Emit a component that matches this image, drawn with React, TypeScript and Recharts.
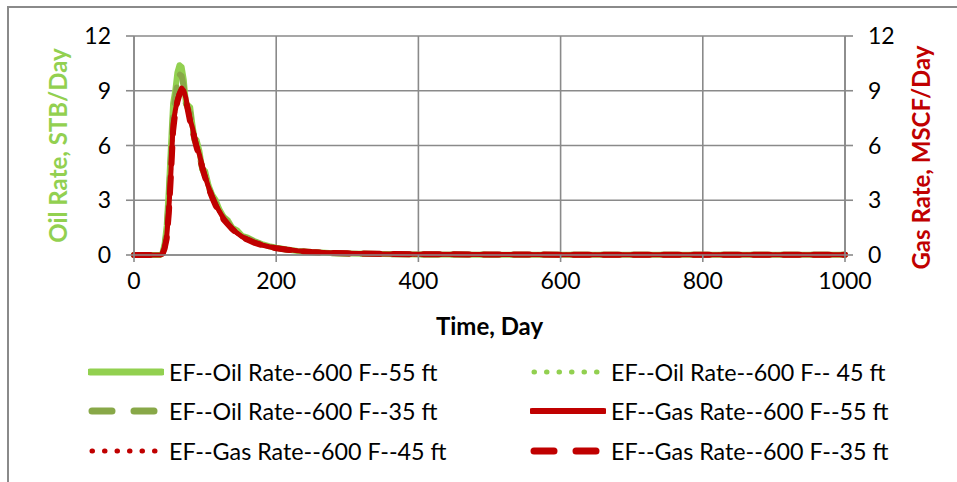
import React from 'react';
import { LineChart, Line, XAxis, YAxis, CartesianGrid } from 'recharts';

const days = [
  0, 10, 20, 30, 37, 40, 43, 46, 49, 52, 55, 58, 61, 64, 67, 70, 73, 76, 79, 82, 85, 88, 92, 96, 100,
  105, 110, 115, 120, 126, 132, 138, 145, 152, 160, 170, 180, 190, 200, 215, 230, 250, 275, 300, 350,
  400, 500, 600, 700, 800, 900, 1000,
];

const oil55 = [
  0, 0, 0, 0, 0, 0.1, 0.6, 1.6, 3.6, 6.0, 8.3, 9.0, 10.0, 10.4, 10.3, 9.6, 8.3, 8.2, 8.1, 7.2, 6.4, 6.3,
  5.7, 4.7, 4.6, 3.8, 3.3, 3.0, 2.5, 2.1, 1.9, 1.5, 1.35, 1.05, 0.95, 0.75, 0.6, 0.48, 0.4, 0.3, 0.22,
  0.16, 0.11, 0.08, 0.05, 0.03, 0.02, 0.02, 0.01, 0.01, 0.01, 0.01,
];
const oil45 = [
  0, 0, 0, 0, 0, 0.08, 0.5, 1.5, 3.4, 5.7, 8.0, 8.9, 9.8, 10.2, 10.1, 9.4, 8.4, 8.1, 7.9, 7.1, 6.5, 6.1,
  5.6, 4.8, 4.4, 3.8, 3.3, 2.9, 2.5, 2.1, 1.85, 1.5, 1.3, 1.05, 0.92, 0.74, 0.6, 0.48, 0.4, 0.3, 0.22,
  0.16, 0.11, 0.08, 0.05, 0.03, 0.02, 0.02, 0.01, 0.01, 0.01, 0.01,
];
const oil35 = [
  0, 0, 0, 0, 0, 0.06, 0.45, 1.3, 3.2, 5.4, 7.7, 8.6, 9.4, 9.9, 9.8, 9.2, 8.3, 8.0, 7.8, 7.0, 6.3, 6.0,
  5.5, 4.7, 4.3, 3.7, 3.2, 2.85, 2.45, 2.05, 1.8, 1.45, 1.28, 1.02, 0.9, 0.72, 0.58, 0.47, 0.39, 0.29,
  0.21, 0.15, 0.1, 0.07, 0.05, 0.03, 0.02, 0.02, 0.01, 0.01, 0.01, 0.01,
];

const gas55 = [
  0, 0, 0, 0, 0, 0.05, 0.4, 1.0, 2.5, 4.6, 7.2, 7.9, 8.5, 8.9, 9.15, 9.0, 8.6, 8.0, 7.4, 7.0, 6.5, 6.0,
  5.5, 4.9, 4.3, 3.7, 3.2, 2.75, 2.4, 2.0, 1.7, 1.45, 1.2, 1.0, 0.85, 0.68, 0.55, 0.45, 0.38, 0.3, 0.23,
  0.17, 0.12, 0.09, 0.06, 0.04, 0.03, 0.02, 0.02, 0.01, 0.01, 0.01,
];
const gas45 = [
  0, 0, 0, 0, 0, 0.05, 0.38, 0.95, 2.4, 4.5, 7.0, 7.85, 8.45, 8.85, 9.05, 8.95, 8.55, 7.95, 7.35, 6.95,
  6.45, 5.95, 5.45, 4.85, 4.28, 3.68, 3.18, 2.72, 2.38, 1.98, 1.69, 1.44, 1.19, 0.99, 0.84, 0.67, 0.55,
  0.45, 0.37, 0.3, 0.23, 0.17, 0.12, 0.09, 0.06, 0.04, 0.03, 0.02, 0.02, 0.01, 0.01, 0.01,
];
const gas35 = [
  0, 0, 0, 0, 0, 0.04, 0.35, 0.9, 2.3, 4.4, 6.8, 7.8, 8.4, 8.8, 9.0, 8.9, 8.5, 7.9, 7.3, 6.9, 6.4, 5.9,
  5.4, 4.8, 4.25, 3.65, 3.15, 2.7, 2.35, 1.95, 1.68, 1.42, 1.18, 0.98, 0.83, 0.66, 0.54, 0.44, 0.37,
  0.29, 0.22, 0.16, 0.12, 0.09, 0.06, 0.04, 0.03, 0.02, 0.02, 0.01, 0.01, 0.01,
];

const dayTicks = [0, 200, 400, 600, 800, 1000];
const rateTicks = [0, 3, 6, 9, 12];

const data = days.map((day, i) => ({
  day,
  oil55: oil55[i],
  oil45: oil45[i],
  oil35: oil35[i],
  gas55: gas55[i],
  gas45: gas45[i],
  gas35: gas35[i],
}));

const OIL = '#92D050';
const OLIVE = '#88A848';
const RED = '#C00000';
const GRID = '#8a8a8a';
const FONT = 'Lato, sans-serif';

const series = [
  { key: 'oil55', axis: 'left', name: 'EF--Oil Rate--600 F--55 ft', color: OIL, width: 6, dash: undefined },
  { key: 'oil45', axis: 'left', name: 'EF--Oil Rate--600 F-- 45 ft', color: OIL, width: 4, dash: '0.5 9' },
  { key: 'oil35', axis: 'left', name: 'EF--Oil Rate--600 F--35 ft', color: OLIVE, width: 6, dash: '16 14' },
  { key: 'gas55', axis: 'right', name: 'EF--Gas Rate--600 F--55 ft', color: RED, width: 5, dash: undefined },
  { key: 'gas45', axis: 'right', name: 'EF--Gas Rate--600 F--45 ft', color: RED, width: 4, dash: '0.5 9' },
  { key: 'gas35', axis: 'right', name: 'EF--Gas Rate--600 F--35 ft', color: RED, width: 6, dash: '16 14' },
];

// two-column legend, read row by row
const legendOrder = ['oil55', 'oil45', 'oil35', 'gas55', 'gas45', 'gas35'];

const tickStyle = { fill: '#000', fontSize: 23, fontFamily: FONT };
const titleStyle = { fontSize: 24, fontWeight: 'bold', fontFamily: FONT };

const LegendSwatch = ({ color, width, dash }: { color: string; width: number; dash?: string }) => (
  <svg width={76} height={20} style={{ display: 'block' }}>
    <line
      x1={dash ? 4 : 2}
      y1={10}
      x2={74}
      y2={10}
      stroke={color}
      strokeWidth={width + 1}
      strokeDasharray={dash === '16 14' ? '20 22' : dash === '0.5 9' ? '0.5 12' : undefined}
      strokeLinecap="round"
    />
  </svg>
);

export default function App() {
  return (
    <div style={{ position: 'absolute', left: 0, top: 0, width: 957, height: 482, background: '#fff' }}>
      <div
        style={{
          position: 'absolute',
          left: 7,
          top: 6,
          width: 960,
          height: 490,
          borderLeft: '2px solid #8a8a8a',
          borderTop: '2px solid #8a8a8a',
        }}
      />
      <LineChart
        width={957}
        height={482}
        data={data}
        margin={{ top: 36, right: 0, bottom: 197, left: 0 }}
        style={{ position: 'absolute', left: 0, top: 0 }}
      >
        <CartesianGrid yAxisId="left" stroke={GRID} strokeWidth={1.6} />
        <XAxis
          dataKey="day"
          type="number"
          domain={[0, 1000]}
          ticks={dayTicks}
          height={30}
          tickSize={7}
          tickMargin={11}
          stroke={GRID}
          strokeWidth={1.6}
          tick={tickStyle}
          label={{ value: 'Time, Day', position: 'bottom', offset: 33, fill: '#000', ...titleStyle }}
        />
        <YAxis
          yAxisId="left"
          domain={[0, 12]}
          ticks={rateTicks}
          width={134}
          tickSize={8}
          tickMargin={15}
          stroke={GRID}
          strokeWidth={1.6}
          tick={tickStyle}
          label={{ value: 'Oil Rate, STB/Day', angle: -90, position: 'center', dx: -9, fill: OIL, ...titleStyle }}
        />
        <YAxis
          yAxisId="right"
          orientation="right"
          domain={[0, 12]}
          ticks={rateTicks}
          width={112}
          tickSize={8}
          tickMargin={15}
          stroke={GRID}
          strokeWidth={1.6}
          tick={tickStyle}
          label={{ value: 'Gas Rate, MSCF/Day', angle: -90, position: 'center', dx: 20, dy: 12, fill: RED, ...titleStyle }}
        />
        {series.map((s) => (
          <Line
            key={s.key}
            yAxisId={s.axis}
            dataKey={s.key}
            type="linear"
            stroke={s.color}
            strokeWidth={s.width}
            strokeDasharray={s.dash}
            strokeLinecap="round"
            strokeLinejoin="round"
            dot={false}
            activeDot={false}
            isAnimationActive={false}
          />
        ))}
      </LineChart>
      <div
        style={{
          position: 'absolute',
          left: 88,
          top: 352,
          display: 'grid',
          gridTemplateColumns: '442px 360px',
          fontFamily: FONT,
          fontSize: 23.3,
          color: '#000',
        }}
      >
        {legendOrder.map((k) => {
          const s = series.find((x) => x.key === k)!;
          return (
            <div key={k} style={{ display: 'flex', alignItems: 'center', height: 39.5 }}>
              <LegendSwatch color={s.color} width={s.width} dash={s.dash} />
              <span style={{ marginLeft: 5, whiteSpace: 'nowrap' }}>{s.name}</span>
            </div>
          );
        })}
      </div>
    </div>
  );
}
